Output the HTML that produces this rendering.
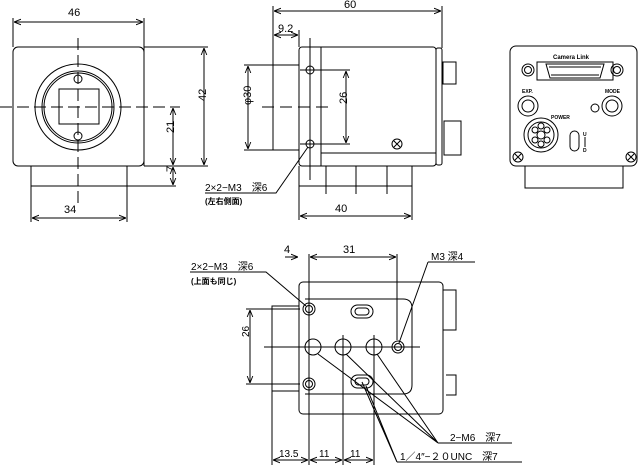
<!DOCTYPE html>
<html><head><meta charset="utf-8"><style>
html,body{margin:0;padding:0;background:#fff}
svg{display:block}
text{font-family:"Liberation Sans","Noto Sans CJK JP",sans-serif;fill:#000}
</style></head><body>
<svg width="641" height="471" viewBox="0 0 641 471" xmlns="http://www.w3.org/2000/svg">
<defs>
<marker id="a" viewBox="0 0 10 10" refX="10" refY="5" markerWidth="7" markerHeight="7" orient="auto-start-reverse"><path d="M0,1 L10,5 L0,9" fill="none" stroke="#000" stroke-width="1.3"/></marker>
</defs>
<g fill="none" stroke="#000" stroke-width="1">
<!-- FRONT VIEW -->
<rect x="13" y="47" width="131" height="119" rx="5"/>
<circle cx="78" cy="107" r="43"/>
<circle cx="78" cy="107" r="36"/>
<circle cx="78" cy="107" r="34"/>
<rect x="59" y="89" width="40" height="35"/>
<circle cx="78" cy="79" r="4"/><circle cx="78" cy="136" r="4"/>
<path d="M31,166 V186 M127,166 V186"/>
<path d="M78,38 V205" stroke-dasharray="12,5"/>
<path d="M0,107 H180" stroke-dasharray="12,5"/>
<path d="M13,18 V47 M144,18 V166"/>
<path d="M14,22 H143" marker-start="url(#a)" marker-end="url(#a)"/>
<path d="M144,47 H208 M144,166 H208 M31,186 H176"/>
<path d="M204,48 V165" marker-start="url(#a)" marker-end="url(#a)"/>
<path d="M173,108 V165" marker-start="url(#a)" marker-end="url(#a)"/>
<path d="M173,167 V185" marker-start="url(#a)" marker-end="url(#a)"/>
<path d="M31,186 V222 M127,186 V222"/>
<path d="M32,218 H126" marker-start="url(#a)" marker-end="url(#a)"/>
<!-- SIDE VIEW -->
<rect x="299" y="47" width="137" height="119" rx="3"/>
<rect x="436" y="48" width="6" height="117" rx="2"/>
<path d="M321,47 V166 M321,153 H436"/>
<path d="M299,65 H273 V150 H299"/>
<rect x="443" y="62" width="13" height="22"/>
<rect x="444" y="121" width="17" height="34"/>
<circle cx="310" cy="70" r="4"/><circle cx="310" cy="144" r="4"/>
<path d="M310,38 V180"/>
<path d="M300,70 H350 M300,144 H350"/>
<path d="M262,107 H330" stroke-dasharray="12,6"/>
<circle cx="397" cy="144" r="5"/><path d="M394,141 L400,147 M400,141 L394,147"/>
<path d="M299,166 V186 H412 V166 M326,166 V194 M356,166 V194 M387,166 V194"/>
<path d="M273,6 V65 M442,6 V48"/>
<path d="M274,11 H441" marker-start="url(#a)" marker-end="url(#a)"/>
<path d="M299,30 V47"/>
<path d="M274,35 H298" marker-start="url(#a)" marker-end="url(#a)"/>
<path d="M244,65 H273 M244,150 H273"/>
<path d="M248,66 V149" marker-start="url(#a)" marker-end="url(#a)"/>
<path d="M346,71 V143" marker-start="url(#a)" marker-end="url(#a)"/>
<path d="M299,186 V220 M412,186 V220"/>
<path d="M300,216 H411" marker-start="url(#a)" marker-end="url(#a)"/>
<path d="M205,193 H276 L308,147" />
<!-- BACK VIEW -->
<rect x="510" y="46" width="127" height="120" rx="6"/>
<path d="M525,166 V188 H623 V166"/>
<path d="M537,62 H613 V80 H537 Z"/>
<path d="M546,64 H604 L600,78 H550 Z"/>
<path d="M549,67 H601 M551,75 H599"/>
<circle cx="528" cy="70" r="6"/><circle cx="528" cy="70" r="3.5"/>
<circle cx="617" cy="70" r="6"/><circle cx="617" cy="70" r="3.5"/>
<circle cx="528" cy="106" r="10"/><circle cx="528" cy="106" r="6"/>
<circle cx="612" cy="106" r="10"/><circle cx="612" cy="106" r="6"/>
<circle cx="595" cy="108" r="4"/>
<circle cx="541" cy="135" r="17"/><circle cx="541" cy="135" r="13"/>
<circle cx="541" cy="135" r="4"/><circle cx="535" cy="130" r="3"/><circle cx="547" cy="130" r="3"/><circle cx="535" cy="140" r="3"/><circle cx="547" cy="140" r="3"/><circle cx="541" cy="126" r="3"/><circle cx="541" cy="144" r="3"/>
<rect x="570" y="131" width="9" height="20" rx="4.5"/>
<circle cx="518" cy="157" r="5"/><path d="M515,154 L521,160 M521,154 L515,160"/>
<circle cx="631" cy="157" r="5"/><path d="M628,154 L634,160 M634,154 L628,160"/>
<path d="M585,137 V147"/>
<!-- BOTTOM VIEW -->
<rect x="299" y="282" width="144" height="132" rx="4"/>
<path d="M305,299 H403 Q412,299 412,308 V385 Q412,394 403,394 H305"/>
<path d="M299,306 H272 V391 H299"/>
<path d="M443,290 H456 V330 H443 M446,375 H456 V395 H446"/>
<circle cx="309" cy="309" r="6"/><circle cx="309" cy="309" r="3.5"/>
<circle cx="309" cy="384" r="6"/><circle cx="309" cy="384" r="3.5"/>
<circle cx="313" cy="347" r="8"/><circle cx="343" cy="347" r="8"/><circle cx="374" cy="347" r="8"/>
<circle cx="398" cy="347" r="6"/><circle cx="398" cy="347" r="3.5"/>
<rect x="351" y="305" width="22" height="13" rx="6.5"/><rect x="355" y="308" width="14" height="7" rx="3.5"/>
<rect x="351" y="375" width="22" height="13" rx="6.5"/><rect x="355" y="378" width="14" height="7" rx="3.5"/>
<path d="M264,347 H420"/>
<path d="M309,254 V300 M309,300 V465 M343,335 V465 M374,335 V465 M272,391 V465 M397,254 V340"/>
<path d="M285,257 H298" marker-end="url(#a)"/>
<path d="M310,257 H396" marker-start="url(#a)" marker-end="url(#a)"/>
<path d="M246,309 H300 M246,384 H300"/>
<path d="M250,310 V383" marker-start="url(#a)" marker-end="url(#a)"/>
<path d="M273,460 H308" marker-start="url(#a)" marker-end="url(#a)"/>
<path d="M310,460 H342" marker-start="url(#a)" marker-end="url(#a)"/>
<path d="M344,460 H373" marker-start="url(#a)" marker-end="url(#a)"/>
<path d="M190,272 H266 L306,306"/>
<path d="M428,262 H475 M428,262 L399,343"/>
<path d="M438,443 H512 M438,443 L318,354 M438,443 L346,354 M438,443 L377,354"/>
<path d="M397,462 H522 M397,462 L362,382 M397,462 L366,386"/>
</g>
<g font-size="11">
<text x="68" y="16">46</text>
<text x="64" y="213">34</text>
<text x="207" y="112" transform="rotate(-90 201 107)">42</text>
<text x="174" y="141" transform="rotate(-90 170 137)">21</text>
<text x="174" y="180" transform="rotate(-90 170 176)">7</text>
<text x="344" y="8">60</text>
<text x="278" y="32">9.2</text>
<text x="335" y="212">40</text>
<text x="246" y="116" transform="rotate(-90 243 108)">φ30</text>
<text x="345" y="114" transform="rotate(-90 341 108)">26</text>
<text x="205" y="191" font-size="10">2×2−M3　深6</text>
<text x="205" y="204" font-size="8" font-weight="bold">(左右側面)</text>
<text x="284" y="253">4</text>
<text x="343" y="253">31</text>
<text x="431" y="260" font-size="10">M3 深4</text>
<text x="191" y="270" font-size="10">2×2−M3　深6</text>
<text x="191" y="284" font-size="8" font-weight="bold">(上面も同じ)</text>
<text x="254" y="352" font-size="10" transform="rotate(-90 244 347)">26</text>
<text x="450" y="441" font-size="10">2−M6　深7</text>
<text x="400" y="460" font-size="10">1／4″−２０UNC　深7</text>
<text x="279" y="457" font-size="10">13.5</text>
<text x="319" y="457" font-size="10">11</text>
<text x="350" y="457" font-size="10">11</text>
<text x="553" y="59" font-size="6" font-weight="bold">Camera Link</text>
<text x="522" y="93" font-size="5" font-weight="bold">EXP.</text>
<text x="605" y="93" font-size="5" font-weight="bold">MODE</text>
<text x="551" y="119" font-size="5" font-weight="bold">POWER</text>
<text x="583" y="136" font-size="5" font-weight="bold">U</text>
<text x="583" y="152" font-size="5" font-weight="bold">D</text>
</g>
</svg>
</body></html>
